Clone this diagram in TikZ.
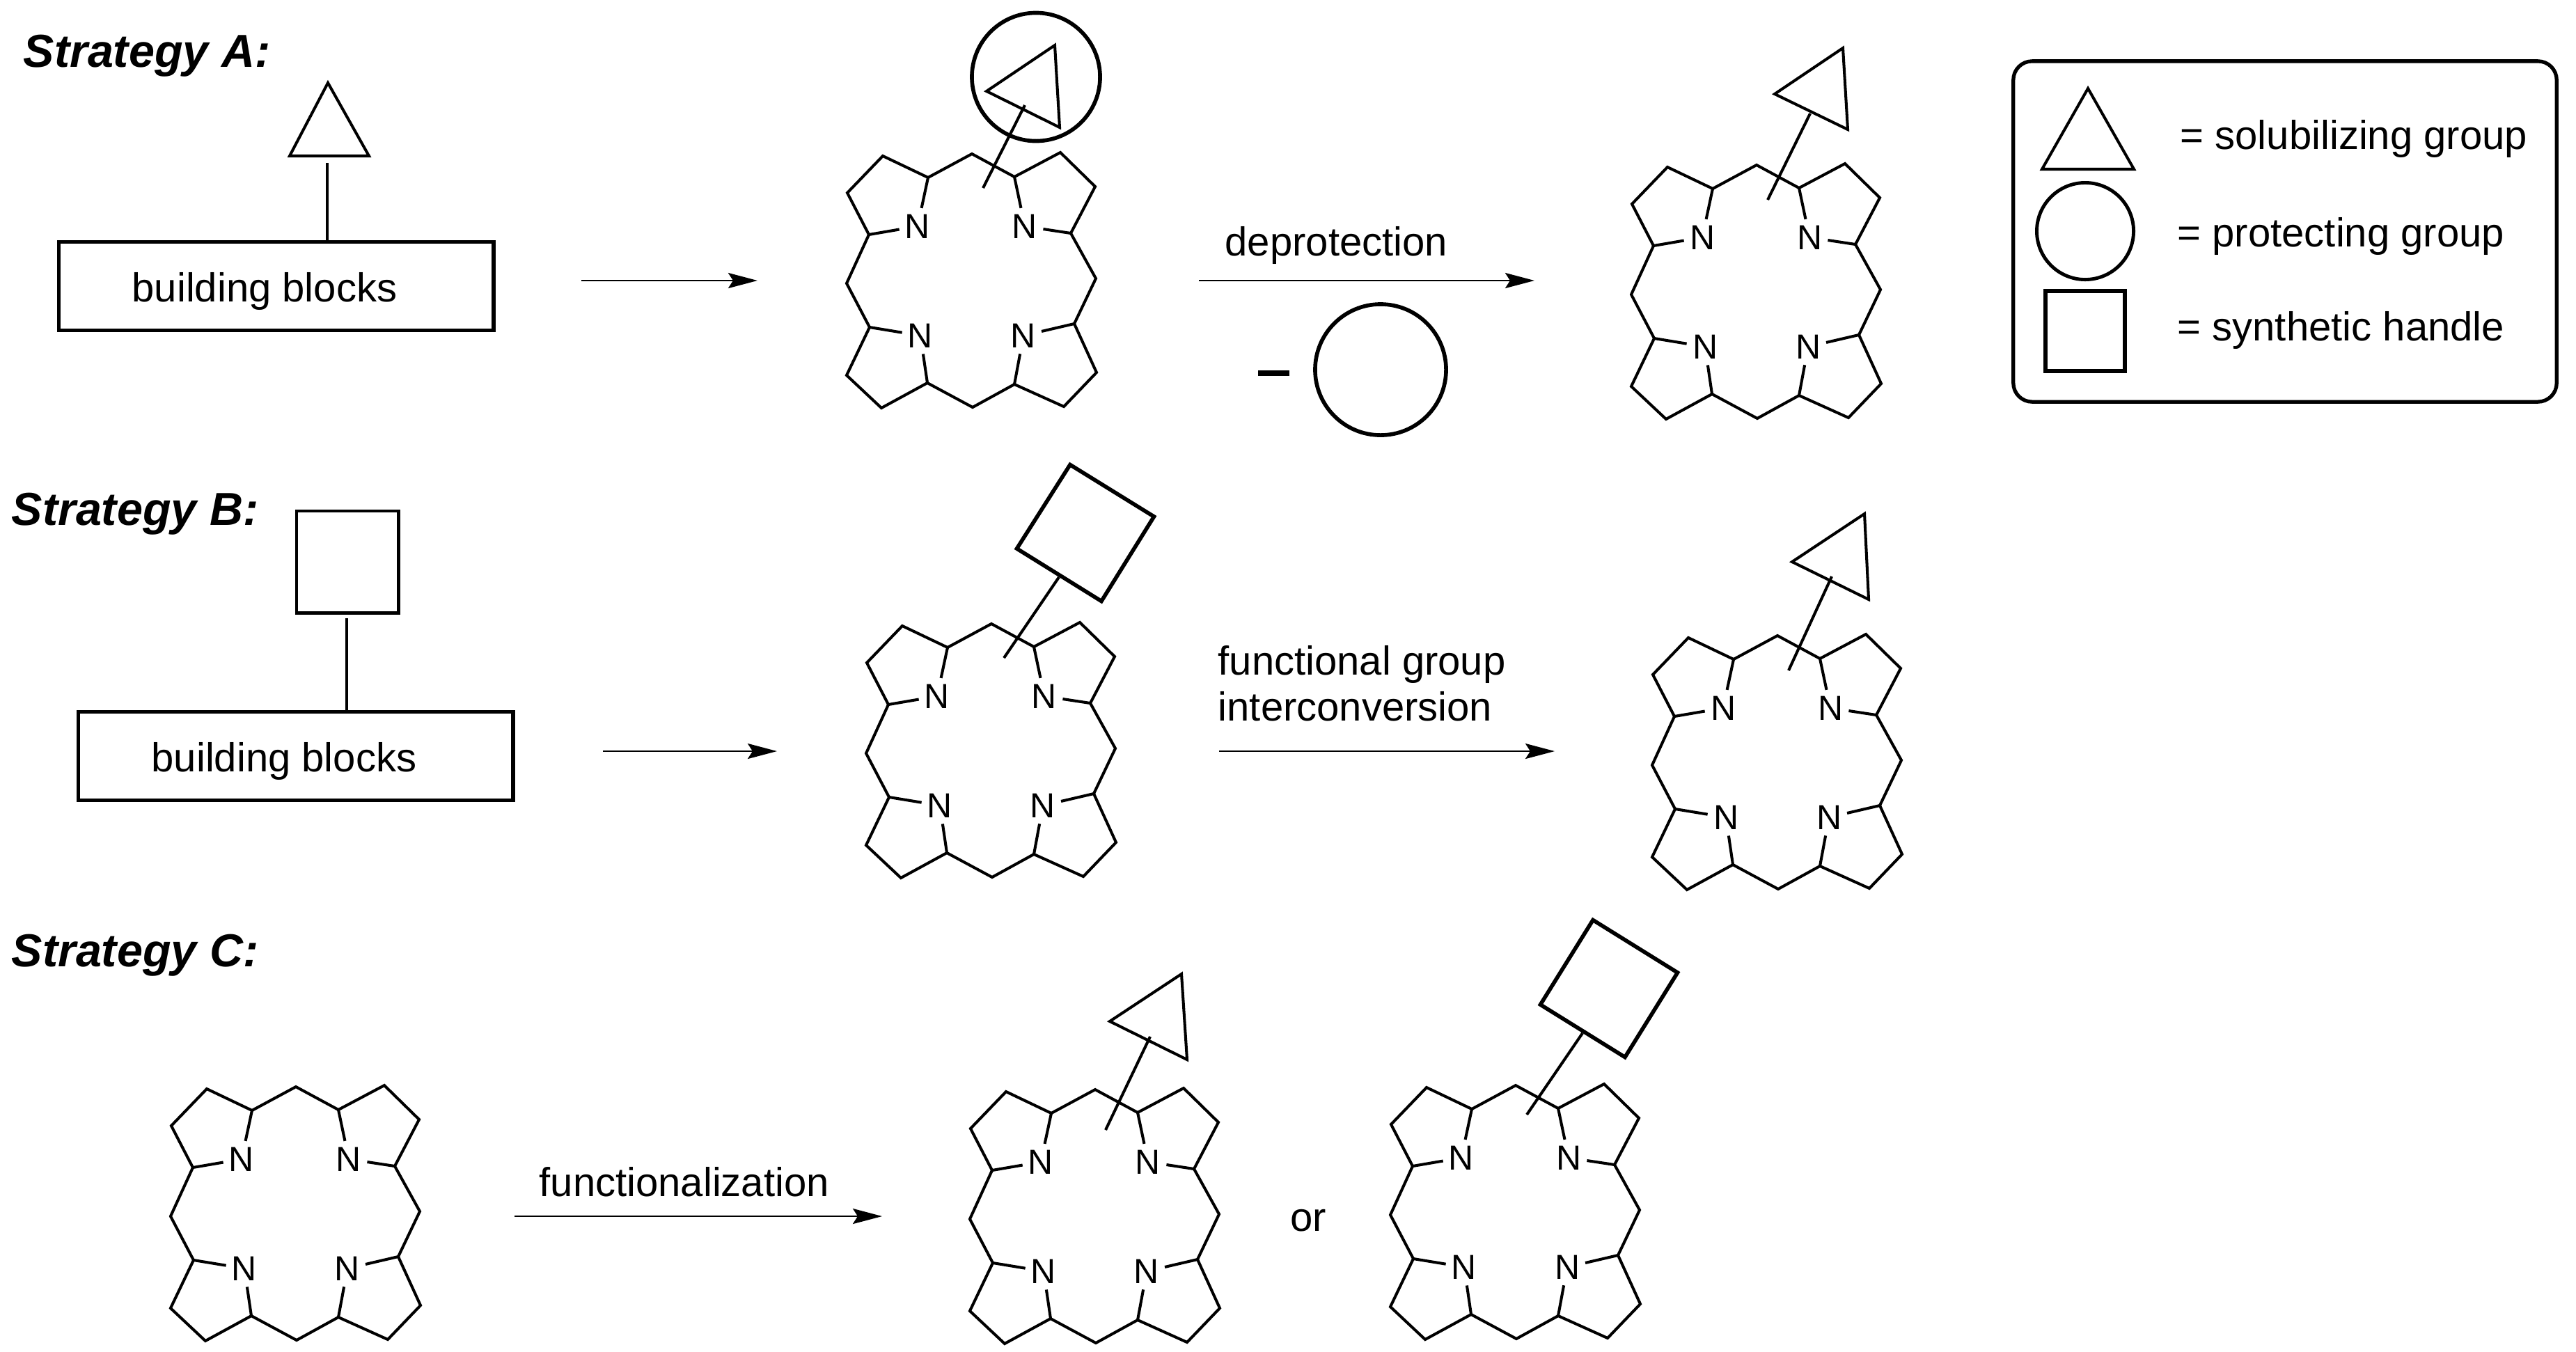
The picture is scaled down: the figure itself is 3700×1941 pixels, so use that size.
\documentclass[tikz,border=0pt]{standalone}
\usepackage{fontspec}
\setmainfont{Liberation Sans}
\usetikzlibrary{arrows.meta}

\tikzset{
  bond/.style={line width=1.15pt},
  heavy/.style={line width=1.6pt},
  arr/.style={line width=0.75pt,-{Stealth[length=0.42cm,width=0.22cm,inset=0.07cm]}},
  atom/.style={circle,inner sep=0pt,minimum size=0.52cm,font=\fontsize{14.2}{16}\selectfont},
  txt/.style={anchor=base west,inner sep=0pt,font=\fontsize{16.5}{19}\selectfont},
  head/.style={anchor=base west,inner sep=0pt,font=\fontsize{18.9}{22}\selectfont\bfseries\itshape},
  block/.style={draw,heavy,rectangle,minimum width=6.24cm,minimum height=1.27cm,inner sep=0pt},
  ring/.pic={
    \coordinate (-c1) at (-62,-147);
    \coordinate (-c2) at (-127,-178);
    \coordinate (-c3) at (-178,-125);
    \coordinate (-c4) at (-147,-65);
    \coordinate (-top) at (1,-181);
    \coordinate (-c5) at (62,-148);
    \coordinate (-c6) at (128,-183);
    \coordinate (-c7) at (178,-134);
    \coordinate (-c8) at (143,-67);
    \coordinate (-rgt) at (179,-2);
    \coordinate (-c9) at (148,63);
    \coordinate (-c10) at (180,133);
    \coordinate (-c11) at (133,182);
    \coordinate (-c12) at (62,150);
    \coordinate (-bot) at (2,183);
    \coordinate (-c13) at (-63,148);
    \coordinate (-c14) at (-129,184);
    \coordinate (-c15) at (-179,137);
    \coordinate (-c16) at (-146,68);
    \coordinate (-lft) at (-179,5);
    \node[atom] (-n1) at (-77,-77) {N};
    \node[atom] (-n2) at (77,-77) {N};
    \node[atom] (-n3) at (-73,80) {N};
    \node[atom] (-n4) at (75,80) {N};
    \draw[bond] (-n1) -- (-c1) -- (-c2) -- (-c3) -- (-c4) -- (-n1);
    \draw[bond] (-n2) -- (-c5) -- (-c6) -- (-c7) -- (-c8) -- (-n2);
    \draw[bond] (-n3) -- (-c13) -- (-c14) -- (-c15) -- (-c16) -- (-n3);
    \draw[bond] (-n4) -- (-c12) -- (-c11) -- (-c10) -- (-c9) -- (-n4);
    \draw[bond] (-c1) -- (-top) -- (-c5);
    \draw[bond] (-c8) -- (-rgt) -- (-c9);
    \draw[bond] (-c12) -- (-bot) -- (-c13);
    \draw[bond] (-c16) -- (-lft) -- (-c4);
  }
}

\begin{document}
\begin{tikzpicture}[x=0.01cm,y=-0.01cm]
\useasboundingbox (0,0) rectangle (3700,1941);

% Strategy A
\node[head] (headA) at (33,96) {Strategy A:};
\node[block] (boxA) at (396.5,411) {};
\node[txt] (textA) at (189,433) {building blocks};
\draw[bond] (471,119) -- (416,224) -- (530,224) -- cycle;
\coordinate (stubA) at (470,234);
\draw[bond] (stubA) -- (stubA |- boxA.north);
\coordinate (a1s) at (835,403);
\coordinate (a1e) at (1088,403);
\draw[arr] (a1s) -- (a1e);
\pic (ringA1) at (1395,402) {ring};
\coordinate (subA1a) at (1412,270);
\coordinate (subA1b) at (1472,151);
\draw[bond] (subA1a) -- (subA1b);
\draw[bond] (1515,65) -- (1417,131) -- (1522,183) -- cycle;
\node[circle,draw,heavy,minimum size=1.84cm,inner sep=0pt] (protA1) at (1488,110.5) {};
\coordinate (a2s) at (1722,403);
\coordinate (a2e) at (2204,403);
\draw[arr] (a2s) -- (a2e);
\node[txt] (depr) at (1759,367) {deprotection};
\draw[line width=2.3pt] (1807,536) -- (1852,536);
\node[circle,draw,heavy,minimum size=1.88cm,inner sep=0pt] (protLoss) at (1983,531) {};
\pic (ringA2) at (2522,418) {ring};
\coordinate (subA2a) at (2539,287);
\coordinate (subA2b) at (2600,163);
\draw[bond] (subA2a) -- (subA2b);
\draw[bond] (2647,69) -- (2549,135) -- (2654,186) -- cycle;

% Legend
\node[draw,rectangle,rounded corners=0.27cm,line width=1.5pt,minimum width=7.80cm,minimum height=4.89cm,inner sep=0pt] (legend) at (3282,332.5) {};
\draw[bond] (2999,127) -- (2933,243) -- (3065,243) -- cycle;
\node[circle,draw,line width=1.4pt,minimum size=1.39cm,inner sep=0pt] (legC) at (2995,332) {};
\node[rectangle,draw,line width=1.55pt,minimum width=1.14cm,minimum height=1.15cm,inner sep=0pt] (legS) at (2995,475.5) {};
\node[txt] (legT1) at (3131,214) {= solubilizing group};
\node[txt] (legT2) at (3127,354) {= protecting group};
\node[txt] (legT3) at (3127,489) {= synthetic handle};

% Strategy B
\node[head] (headB) at (16,754) {Strategy B:};
\node[block] (boxB) at (424.5,1086) {};
\node[txt] (textB) at (217,1108) {building blocks};
\node[rectangle,draw,line width=1.4pt,minimum size=1.46cm,inner sep=0pt] (sqB) at (499,807) {};
\coordinate (stubB) at (498,888);
\draw[bond] (stubB) -- (stubB |- boxB.north);
\coordinate (b1s) at (866,1079);
\coordinate (b1e) at (1116,1079);
\draw[arr] (b1s) -- (b1e);
\pic (ringB1) at (1423,1077) {ring};
\coordinate (subB1a) at (1442,945);
\coordinate (subB1b) at (1521,829);
\draw[bond] (subB1a) -- (subB1b);
\draw[heavy] (1537,667.5) -- (1657.5,742) -- (1582,863.5) -- (1460.5,788) -- cycle;
\coordinate (b2s) at (1751,1079);
\coordinate (b2e) at (2233,1079);
\draw[arr] (b2s) -- (b2e);
\node[txt] (fgi1) at (1749,969) {functional group};
\node[txt] (fgi2) at (1749,1035) {interconversion};
\pic (ringB2) at (2552,1094) {ring};
\coordinate (subB2a) at (2569,963);
\coordinate (subB2b) at (2631,828);
\draw[bond] (subB2a) -- (subB2b);
\draw[bond] (2678,738) -- (2574,807) -- (2684,861) -- cycle;

% Strategy C
\node[head] (headC) at (16,1388) {Strategy C:};
\pic (ringC1) at (424,1742) {ring};
\coordinate (c1s) at (739,1747);
\coordinate (c1e) at (1267,1747);
\draw[arr] (c1s) -- (c1e);
\node[txt] (func) at (774,1718) {functionalization};
\pic (ringC2) at (1572,1746) {ring};
\coordinate (subC2a) at (1588,1623);
\coordinate (subC2b) at (1652,1489);
\draw[bond] (subC2a) -- (subC2b);
\draw[bond] (1697,1399) -- (1594,1467) -- (1705,1522) -- cycle;
\node[txt] (orT) at (1853,1768) {or};
\pic (ringC3) at (2176,1740) {ring};
\coordinate (subC3a) at (2193,1601);
\coordinate (subC3b) at (2273,1484);
\draw[bond] (subC3a) -- (subC3b);
\draw[heavy] (2288,1321.5) -- (2409.5,1397) -- (2334,1518.5) -- (2212.5,1443) -- cycle;
\end{tikzpicture}
\end{document}
